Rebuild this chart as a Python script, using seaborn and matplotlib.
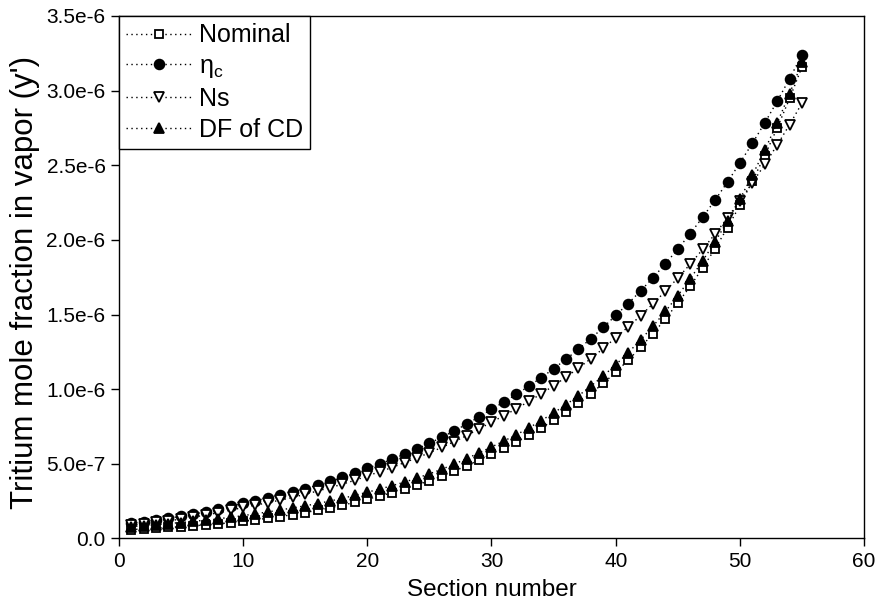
import matplotlib
matplotlib.use("Agg")
import matplotlib.pyplot as plt
import seaborn as sns
import pandas as pd

# section numbers 1..55
section = list(range(1, 56))

# tritium mole fraction in vapor, units of 1e-6
nominal = [0.060, 0.064, 0.069, 0.074, 0.079, 0.085, 0.091, 0.098, 0.106, 0.115,
           0.125, 0.136, 0.147, 0.160, 0.174, 0.189, 0.205, 0.223, 0.242, 0.263,
           0.284, 0.307, 0.331, 0.358, 0.386, 0.417, 0.451, 0.487, 0.526, 0.565,
           0.605, 0.647, 0.692, 0.741, 0.792, 0.848, 0.907, 0.971, 1.039, 1.114,
           1.194, 1.280, 1.372, 1.471, 1.577, 1.690, 1.812, 1.942, 2.082, 2.232,
           2.393, 2.565, 2.750, 2.948, 3.160]
eta_c = [0.103, 0.113, 0.124, 0.136, 0.149, 0.163, 0.179, 0.196, 0.215, 0.236,
         0.253, 0.271, 0.290, 0.311, 0.333, 0.357, 0.382, 0.409, 0.438, 0.470,
         0.500, 0.531, 0.565, 0.600, 0.638, 0.678, 0.721, 0.766, 0.815, 0.866,
         0.914, 0.966, 1.020, 1.077, 1.137, 1.201, 1.268, 1.339, 1.414, 1.494,
         1.574, 1.658, 1.747, 1.840, 1.939, 2.042, 2.152, 2.267, 2.388, 2.516,
         2.647, 2.784, 2.929, 3.081, 3.241]
ns = [0.090, 0.098, 0.108, 0.118, 0.130, 0.143, 0.157, 0.172, 0.189, 0.208,
      0.223, 0.240, 0.257, 0.275, 0.296, 0.318, 0.340, 0.364, 0.390, 0.418,
      0.448, 0.475, 0.509, 0.540, 0.574, 0.610, 0.649, 0.689, 0.734, 0.779,
      0.823, 0.869, 0.918, 0.969, 1.023, 1.081, 1.141, 1.205, 1.273, 1.345,
      1.417, 1.492, 1.572, 1.656, 1.745, 1.838, 1.937, 2.040, 2.149, 2.264,
      2.382, 2.506, 2.636, 2.773, 2.917]
df_cd = [0.080, 0.086, 0.093, 0.100, 0.107, 0.115, 0.123, 0.132, 0.142, 0.153,
         0.165, 0.178, 0.191, 0.205, 0.219, 0.234, 0.251, 0.269, 0.289, 0.310,
         0.331, 0.354, 0.378, 0.405, 0.433, 0.464, 0.498, 0.535, 0.574, 0.613,
         0.653, 0.695, 0.740, 0.790, 0.841, 0.897, 0.956, 1.021, 1.089, 1.164,
         1.244, 1.330, 1.422, 1.521, 1.627, 1.740, 1.860, 1.988, 2.126, 2.274,
         2.433, 2.602, 2.784, 2.980, 3.190]

series_names = ["Nominal", "η$_\\mathregular{c}$", "Ns", "DF of CD"]
yticks = [0.0, 0.5e-6, 1.0e-6, 1.5e-6, 2.0e-6, 2.5e-6, 3.0e-6, 3.5e-6]
ytick_labels = ["0.0", "5.0e-7", "1.0e-6", "1.5e-6", "2.0e-6", "2.5e-6", "3.0e-6", "3.5e-6"]
xticks = [0, 10, 20, 30, 40, 50, 60]

sns.set_style("ticks")
plt.rcParams["font.family"] = ["Liberation Sans", "DejaVu Sans"]
plt.rcParams["mathtext.fontset"] = "custom"
plt.rcParams["mathtext.rm"] = "Liberation Sans"
plt.rcParams["text.color"] = "black"
plt.rcParams["axes.labelcolor"] = "black"

data = pd.DataFrame({
    "section": section,
    "nominal": [v * 1e-6 for v in nominal],
    "eta_c": [v * 1e-6 for v in eta_c],
    "ns": [v * 1e-6 for v in ns],
    "df_cd": [v * 1e-6 for v in df_cd],
})

fig = plt.figure(figsize=(8.8, 6.15), dpi=100)
ax = fig.add_axes([0.135, 0.1244, 0.847, 0.8496])

styles = [
    ("nominal", "s", "white", 6.0),
    ("eta_c", "o", "black", 7.0),
    ("ns", "v", "white", 6.5),
    ("df_cd", "^", "black", 6.5),
]
for (col, mk, fc, ms), name in zip(styles, series_names):
    sns.lineplot(data=data, x="section", y=col, ax=ax, color="black",
                 linestyle=(0, (1, 2.5)), linewidth=1.0, marker=mk, markersize=ms,
                 markerfacecolor=fc, markeredgecolor="black", markeredgewidth=1.3,
                 label=name)

ax.set_xlim(0, 60)
ax.set_ylim(0, 3.5e-6)
ax.set_xticks(xticks)
ax.set_yticks(yticks)
ax.set_yticklabels(ytick_labels)
ax.tick_params(direction="out", length=6, width=1.0, labelsize=15,
               colors="black", labelcolor="black")
for sp in ax.spines.values():
    sp.set_color("black")
    sp.set_linewidth(1.0)

ax.set_xlabel("Section number", fontsize=17.5, labelpad=6)
ax.set_ylabel("Tritium mole fraction in vapor (y')", fontsize=22.5)
ax.yaxis.set_label_coords(-0.106, 0.49)

leg = ax.legend(loc="upper left", fontsize=18, frameon=True, fancybox=False,
                edgecolor="black", borderaxespad=0, handlelength=2.6,
                handletextpad=0.3, labelspacing=0.27, borderpad=0.3)
leg.get_frame().set_linewidth(1.0)
leg.get_frame().set_alpha(1)

fig.savefig("out.png", dpi=100)
